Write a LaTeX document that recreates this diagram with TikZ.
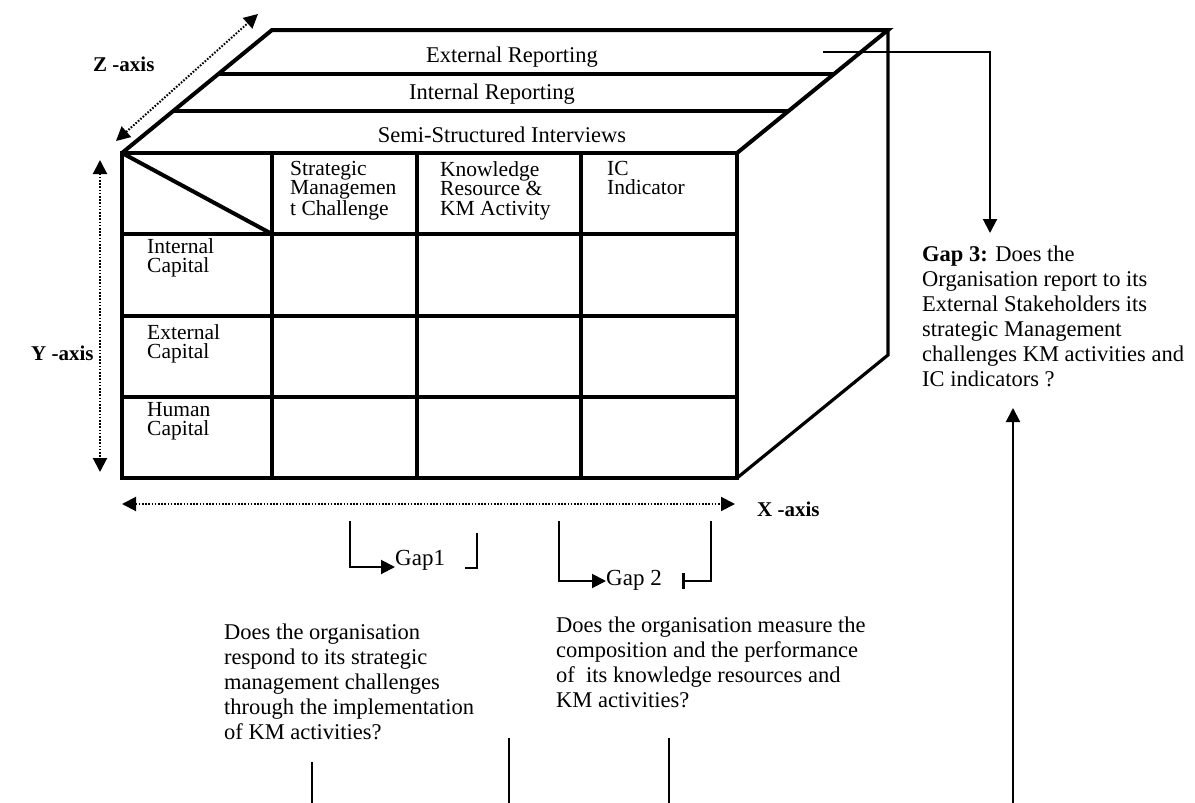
\documentclass[tikz,border=0pt]{standalone}
\usepackage{fontspec}
\setmainfont{Liberation Serif}
\usetikzlibrary{arrows.meta,calc}
\tikzset{
  boxline/.style={line width=4pt, line join=miter},
  sideline/.style={line width=3.2pt},
  conn/.style={line width=2pt},
  tiparrow/.style={-{Triangle[length=14pt,width=14pt]}},
  dotaxis/.style={line width=2pt, dash pattern=on 1.6pt off 1.6pt,
     {Triangle[length=14pt,width=14pt]}-{Triangle[length=14pt,width=14pt]}},
  body/.style={font=\fontsize{22.5}{25}\selectfont, inner sep=0pt, align=left, anchor=north west},
  cell/.style={font=\fontsize{21.5}{19.5}\selectfont, inner sep=0pt, align=left, anchor=north west},
  slab/.style={font=\fontsize{22.5}{25}\selectfont, inner sep=0pt, anchor=base},
  gaplbl/.style={font=\fontsize{23}{25}\selectfont, inner sep=0pt, anchor=base west},
  axislbl/.style={font=\bfseries\fontsize{21}{24}\selectfont, inner sep=0pt, anchor=base west},
}
\begin{document}
\begin{tikzpicture}[x=1pt,y=-1pt]
\useasboundingbox (0,0) rectangle (1195,803);
% corners
\coordinate (A) at (122,153);
\coordinate (B) at (737,153);
\coordinate (C) at (737,478);
\coordinate (D) at (122,478);
\coordinate (E) at (272,30);
\coordinate (F) at (888,30);
\coordinate (G) at (888,355);
% top face
\draw[boxline] (A) -- (E) -- (F) -- (B);
\draw[boxline] ($(A)!0.642!(E)$) -- ($(B)!0.642!(F)$);
\draw[boxline] ($(A)!0.341!(E)$) -- ($(B)!0.341!(F)$);
% right face
\draw[sideline] (F) -- (G) -- (C);
% front face grid
\draw[boxline] (A) rectangle (C);
\foreach \x in {272,417,581} \draw[boxline] (\x,153) -- (\x,478);
\foreach \y in {234,316,397} \draw[boxline] (122,\y) -- (737,\y);
\draw[boxline] (A) -- (272,234);
% slab labels
\node[slab] (ext) at (512,62) {External Reporting};
\node[slab] (int) at (492,99) {Internal Reporting};
\node[slab] (ssi) at (502,142) {Semi-Structured Interviews};
% header cells
\node[cell] (smc) at (290,161) {Strategic\\Managemen\\t Challenge};
\node[cell] (krk) at (440,161) {Knowledge\\Resource \&\\KM Activity};
\node[cell] (ici) at (607,161) {IC\\Indicator};
\node[cell] (inc) at (147,238) {Internal\\Capital};
\node[cell] (exc) at (147,324) {External\\Capital};
\node[cell] (huc) at (147,402) {Human\\Capital};
% axes
\draw[dotaxis] (116,141) -- (258,14);
\draw[dotaxis] (100,160) -- (100,472);
\draw[dotaxis] (122,504) -- (735,504);
\node[axislbl] (zax) at (93,71) {Z -axis};
\node[axislbl] (yax) at (31,360) {Y -axis};
\node[axislbl] (xax) at (757,516) {X -axis};
% gaps
\node[gaplbl] (gap1) at (395,565) {Gap1};
\node[gaplbl] (gap2) at (606,585) {Gap 2};
\coordinate (g1a) at (350,521);
\coordinate (g1b) at (477,533);
\coordinate (g2a) at (559,521);
\coordinate (g2b) at (711,521);
\draw[conn,tiparrow] (g1a) |- (gap1.west |- 0,567);
\draw[conn] (g1b) |- (465,568);
\draw[conn,tiparrow] (g2a) |- (gap2.west |- 0,581);
\draw[conn,-{Bar[width=16pt,line width=3pt]}] (g2b) |- (682,581);
% gap 3
\node[body] (gap3) at (922,246) {\textbf{Gap 3:} Does the\\Organisation report to its\\External Stakeholders its\\strategic Management\\challenges KM activities and\\IC indicators ?};
\coordinate (g3s) at (823,52);
\draw[conn,tiparrow] (g3s) -| (990,233);
\coordinate (g3u) at (1013,803);
\draw[conn,tiparrow] (g3u) -- (1013,408);
% questions
\node[body] (q1) at (224,624) {Does the organisation\\respond to its strategic\\management challenges\\through the implementation\\of KM activities?};
\node[body] (q2) at (556,617) {Does the organisation measure the\\composition and the performance\\of~ its knowledge resources and\\KM activities?};
\coordinate (l1) at (312,762);
\coordinate (l2) at (509,738);
\coordinate (l3) at (669,738);
\draw[conn] (l1) -- (312,803);
\draw[conn] (l2) -- (509,803);
\draw[conn] (l3) -- (669,803);
\end{tikzpicture}
\end{document}
